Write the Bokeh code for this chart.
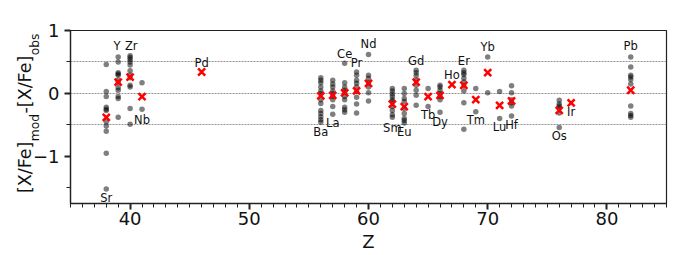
from bokeh.plotting import figure
from bokeh.models import Range1d, FixedTicker, ColumnDataSource, LinearAxis
from bokeh.core.properties import value
from bokeh.embed import file_html
from bokeh.resources import INLINE

# ---------------- data ----------------
elements = ["Sr", "Y", "Zr", "Nb", "Pd", "Ba", "La", "Ce", "Pr", "Nd", "Sm", "Eu",
            "Gd", "Tb", "Dy", "Ho", "Er", "Tm", "Yb", "Lu", "Hf", "Os", "Ir", "Pb"]
atomic_z = [38, 39, 40, 41, 46, 56, 57, 58, 59, 60, 62, 63,
            64, 65, 66, 67, 68, 69, 70, 71, 72, 76, 77, 82]
mean_diff = [-0.38, 0.18, 0.26, -0.05, 0.34, -0.04, -0.03, 0.01, 0.04, 0.16, -0.17, -0.21,
             0.18, -0.05, -0.03, 0.14, 0.13, -0.10, 0.33, -0.19, -0.12, -0.27, -0.15, 0.05]
model_diff = [
    [0.46, 0.03, -0.05, -0.22, -0.25, -0.27, -0.45, -0.52, -0.60, -0.95, -1.52],   # Sr
    [0.58, 0.50, 0.33, 0.31, 0.29, 0.21, 0.17, 0.09, 0.05, -0.05, -0.08, -0.38],   # Y
    [0.60, 0.57, 0.54, 0.50, 0.45, 0.36, 0.29, 0.25, 0.13, 0.10, -0.24, -0.49],    # Zr
    [0.17, -0.25],                                                                # Nb
    [],                                                                           # Pd
    [0.25, 0.21, 0.17, 0.10, 0.04, 0.0, -0.10, -0.16, -0.27, -0.32, -0.37, -0.42, -0.46],  # Ba
    [0.21, 0.15, 0.10, 0.04, 0.0, -0.05, -0.10, -0.21, -0.33],                    # La
    [0.48, 0.17, 0.10, 0.05, 0.02, -0.05, -0.10, -0.22, -0.26, -0.30],            # Ce
    [0.34, 0.29, 0.21, 0.16, 0.10, 0.03, -0.06, -0.17, -0.31],                    # Pr
    [0.62, 0.29, 0.24, 0.17, 0.10, 0.01, -0.12],                                  # Nd
    [0.08, 0.04, -0.01, -0.05, -0.10, -0.13, -0.21, -0.27, -0.34, -0.38],         # Sm
    [0.08, 0.0, -0.08, -0.13, -0.24, -0.32, -0.40, -0.43, -0.47],                 # Eu
    [0.37, 0.33, 0.28, 0.21, 0.13, 0.05, -0.03, -0.19],                           # Gd
    [0.08, -0.21],                                                                # Tb
    [0.13, 0.10, 0.05, 0.0, -0.05, -0.10, -0.30],                                 # Dy
    [],                                                                           # Ho
    [0.37, 0.33, 0.30, 0.24, 0.18, 0.12, 0.04, -0.15, -0.57],                     # Er
    [0.08, -0.29],                                                                # Tm
    [0.58, 0.01],                                                                 # Yb
    [0.03, -0.40],                                                                # Lu
    [0.12, 0.01, -0.10, -0.15, -0.20, -0.36],                                     # Hf
    [-0.11, -0.17, -0.20, -0.23, -0.31, -0.54],                                   # Os
    [],                                                                           # Ir
    [0.58, 0.42, 0.29, 0.26, 0.22, 0.15, -0.20, -0.32, -0.35, -0.38],             # Pb
]
x_ticks = [40, 50, 60, 70, 80]
y_ticks = [-1, 0, 1]
y_tick_labels = {-1: "\u22121", 0: "0", 1: "1"}
x_label = "Z"
y_label_parts = [("[X/Fe]", "main"), ("mod", "sub"), ("-[X/Fe]", "main"), ("obs", "sub")]

# ---------------- layout (label placement) ----------------
label_dx = [0, -0.1, 0.1, 0, 0, 0, 0, 0, 0, 0, 0, 0,
            0, 0, 0, 0, 0, 0, 0, 0, 0, 0, 0, 0]
label_y = [-1.655, 0.746, 0.746, -0.415, 0.49, -0.606, -0.463, 0.634, 0.49, 0.793, -0.542, -0.606,
           0.523, -0.351, -0.447, 0.30, 0.523, -0.43, 0.73, -0.54, -0.51, -0.67, -0.30, 0.76]

FONT = "DejaVu Sans"
X0, X1, Y0, Y1 = 35, 85, -1.75, 1.0
FL, FR, FT, FB = 70, 666, 30, 203   # frame in page px


def py2y(py):
    return round(Y1 - (py - FT) * (Y1 - Y0) / (FB - FT), 5)


p = figure(width=684, height=255, output_backend="svg", toolbar_location=None,
           x_range=Range1d(X0, X1), y_range=Range1d(Y0, Y1),
           min_border_left=FL, min_border_right=684 - FR, min_border_top=FT, min_border_bottom=255 - FB)
p.background_fill_color = "white"
p.border_fill_color = "white"
p.outline_line_color = "#222222"
p.outline_line_width = 1.2

for ax in (p.xaxis[0], p.yaxis[0]):
    ax.axis_line_color = "#222222"
    ax.axis_line_width = 1.3
    ax.major_tick_line_color = "#222222"
    ax.minor_tick_line_color = "#222222"
    ax.major_tick_out = 6
    ax.major_tick_in = 0
    ax.minor_tick_out = 4
    ax.minor_tick_in = 0
    ax.major_tick_line_width = 2
    ax.minor_tick_line_width = 1
    ax.major_label_text_font = FONT
    ax.major_label_text_font_size = "18px"
    ax.major_label_text_color = "#111111"

p.xaxis.ticker = FixedTicker(ticks=x_ticks, minor_ticks=list(range(X0, X1 + 1)))
p.yaxis.ticker = FixedTicker(ticks=y_ticks, minor_ticks=[-1.5, -0.5, 0.5])
p.yaxis.major_label_overrides = y_tick_labels
p.xaxis.major_label_standoff = 2
p.yaxis.major_label_standoff = 5
p.xaxis.axis_label = x_label
p.xaxis.axis_label_text_font = FONT
p.xaxis.axis_label_text_font_size = "18px"
p.xaxis.axis_label_text_font_style = "normal"
p.xaxis.axis_label_text_color = "#111111"
p.xaxis.axis_label_standoff = 3

p.xgrid.visible = False
p.ygrid.ticker = FixedTicker(ticks=[-0.5, 0, 0.5])
p.ygrid.grid_line_color = "#777777"
p.ygrid.grid_line_dash = "2 1"
p.ygrid.grid_line_width = 0.8

# gray model points
gx, gy = [], []
for zz, vals in zip(atomic_z, model_diff):
    for v in vals:
        gx.append(zz)
        gy.append(v)
p.scatter(gx, gy, size=5.5, fill_color="black", fill_alpha=0.5, line_color=None)

# red crosses
p.scatter(atomic_z, mean_diff, marker="x", size=10, line_color="red", line_width=2.5)

# element labels
lsrc = ColumnDataSource(dict(x=[zz + d for zz, d in zip(atomic_z, label_dx)], y=label_y, t=elements))
p.text(x="x", y="y", text="t", source=lsrc, text_font=value(FONT), text_font_size="11.5px",
       text_align="center", text_baseline="middle", text_color="#111111")

# y axis label with subscripts: pieces placed as tick labels of two label-only axes
MAIN, SUB = 17.5, 12.25
EM = {"[X/Fe]": 2.993, "mod": 2.221, "-[X/Fe]": 3.354, "obs": 1.768}
ypos = 193.0
main_ticks, sub_ticks = {}, {}
for txt, kind in y_label_parts:
    fs = MAIN if kind == "main" else SUB
    ln = EM[txt] * fs
    c = py2y(ypos - ln / 2)
    (main_ticks if kind == "main" else sub_ticks)[c] = txt
    ypos -= ln


def label_axis(ticks, fs, standoff):
    ax = LinearAxis(ticker=FixedTicker(ticks=list(ticks.keys()), minor_ticks=[]),
                    major_label_overrides=ticks, major_label_orientation="parallel",
                    major_label_text_font=FONT, major_label_text_font_size=f"{fs}px",
                    major_label_text_color="#111111", major_label_standoff=standoff,
                    axis_line_color=None, major_tick_line_color=None, minor_tick_line_color=None,
                    major_tick_out=0, major_tick_in=0, minor_tick_out=0, minor_tick_in=0)
    return ax


p.add_layout(label_axis(sub_ticks, SUB, -13), "left")
p.add_layout(label_axis(main_ticks, MAIN, -10), "left")

open("out.html", "w").write(file_html(p, INLINE))
